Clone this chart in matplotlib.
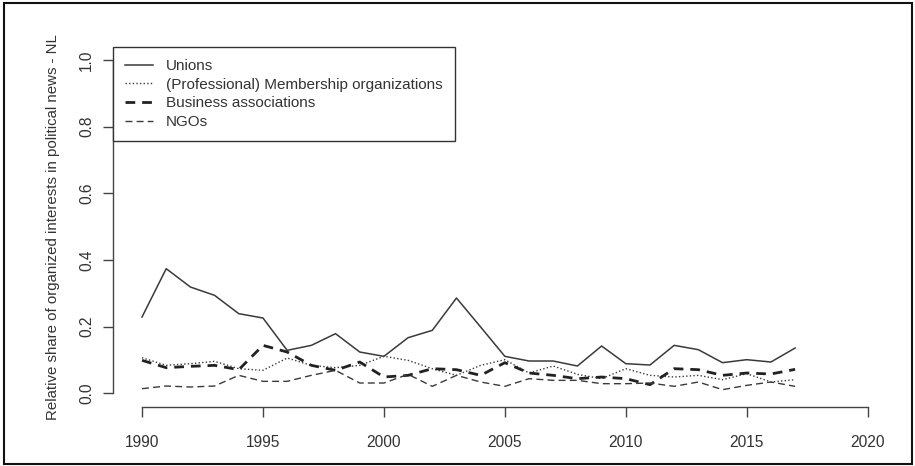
import matplotlib
matplotlib.use("Agg")
import matplotlib.pyplot as plt
from matplotlib.patches import Rectangle

plt.rcParams['font.family'] = ['Liberation Sans', 'DejaVu Sans']

years = list(range(1990, 2018))

unions = [0.229, 0.374, 0.319, 0.294, 0.239, 0.226, 0.129, 0.144, 0.179, 0.124,
          0.111, 0.167, 0.189, 0.286, 0.199, 0.111, 0.097, 0.097, 0.082, 0.142,
          0.089, 0.085, 0.144, 0.131, 0.092, 0.101, 0.094, 0.136]
membership = [0.107, 0.084, 0.089, 0.096, 0.074, 0.069, 0.106, 0.084, 0.077, 0.084,
              0.111, 0.099, 0.074, 0.054, 0.084, 0.101, 0.061, 0.082, 0.057, 0.044,
              0.074, 0.054, 0.049, 0.054, 0.041, 0.059, 0.034, 0.041]
business = [0.099, 0.077, 0.081, 0.084, 0.071, 0.144, 0.124, 0.084, 0.069, 0.094,
            0.049, 0.054, 0.074, 0.071, 0.054, 0.092, 0.061, 0.054, 0.044, 0.049,
            0.044, 0.026, 0.074, 0.071, 0.054, 0.061, 0.058, 0.072]
ngos = [0.014, 0.022, 0.019, 0.022, 0.054, 0.036, 0.036, 0.054, 0.069, 0.031,
        0.031, 0.057, 0.021, 0.054, 0.034, 0.021, 0.044, 0.039, 0.039, 0.029,
        0.029, 0.031, 0.021, 0.034, 0.011, 0.024, 0.034, 0.021]

labels = ["Unions", "(Professional) Membership organizations",
          "Business associations", "NGOs"]
xticks = [1990, 1995, 2000, 2005, 2010, 2015, 2020]
yticks = [0.0, 0.2, 0.4, 0.6, 0.8, 1.0]

fig = plt.figure(figsize=(9.15, 4.66), dpi=100)
ax = fig.add_axes([0.1235, 0.1273, 0.8565, 0.7725])

lc = '#3a3a3a'
ax.plot(years, unions, color=lc, lw=1.1, label=labels[0])
ax.plot(years, membership, color=lc, lw=1.0, dashes=(1, 1.6), label=labels[1])
ax.plot(years, business, color='#222222', lw=2.0, dashes=(3.5, 2.5), label=labels[2])
ax.plot(years, ngos, color=lc, lw=1.0, dashes=(5, 3), label=labels[3])

ax.set_xlim(1988.8, 2021.2)
ax.set_ylim(-0.04, 1.04)
ax.set_xticks(xticks)
ax.set_xticklabels([str(x) for x in xticks])
ax.set_yticks(yticks)
ax.set_yticklabels(["%.1f" % y for y in yticks], rotation=90, va='center')

# R-style axes: no box, spines only over the tick range
for s in ['top', 'right']:
    ax.spines[s].set_visible(False)
ax.spines['left'].set_bounds(0, 1)
ax.spines['bottom'].set_bounds(1990, 2020)
for s in ['left', 'bottom']:
    ax.spines[s].set_color('#444444')
    ax.spines[s].set_linewidth(1.0)

ax.tick_params(axis='x', length=7, width=1.0, color='#444444', pad=13.5,
               labelsize=11.2, labelcolor='#333333')
ax.tick_params(axis='y', length=7, width=1.0, color='#444444', pad=6.5,
               labelsize=11.2, labelcolor='#333333')

ax.set_ylabel("Relative share of organized interests in political news - NL",
              fontsize=10.8, color='#333333', labelpad=14)

leg = ax.legend(loc='upper left', bbox_to_anchor=(0, 1), borderaxespad=0,
                fancybox=False, framealpha=1, edgecolor='#333333',
                fontsize=11, handlelength=1.8, handletextpad=0.85,
                labelspacing=0.31, borderpad=0.8)
leg.get_frame().set_linewidth(1.0)
for t in leg.get_texts():
    t.set_color('#333333')

fig.patches.append(Rectangle((0.004, 0.004), 0.993, 0.989, transform=fig.transFigure,
                             fill=False, edgecolor='#111111', lw=1.5))

fig.savefig("out.png", dpi=100)
